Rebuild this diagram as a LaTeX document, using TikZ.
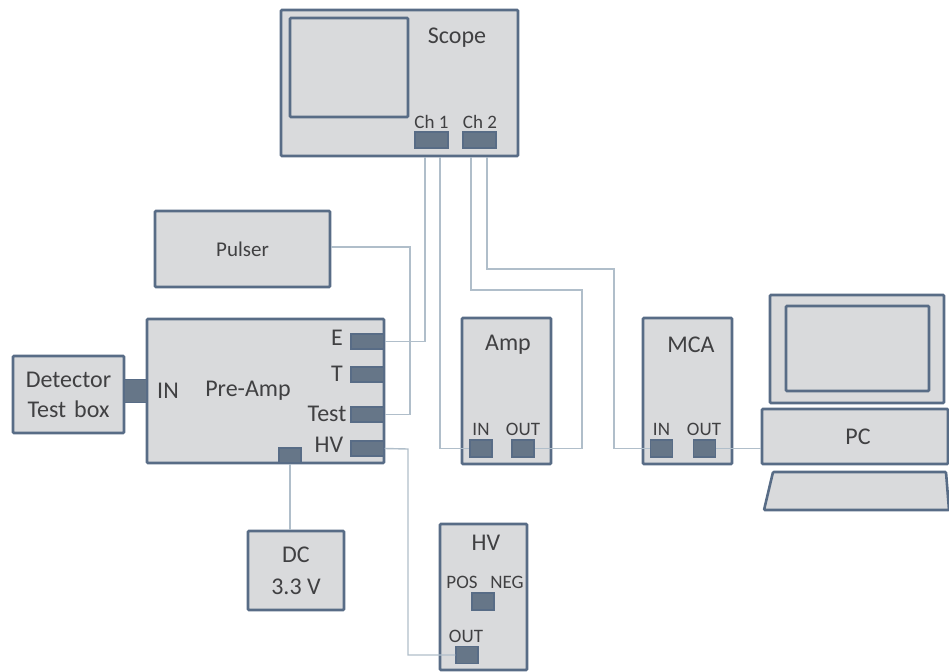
\documentclass[tikz,border=0pt]{standalone}
\usepackage{fontspec}
\setmainfont{Carlito}
\definecolor{boxline}{RGB}{88,108,134}
\definecolor{boxfill}{RGB}{217,218,220}
\definecolor{portfill}{RGB}{102,118,136}
\definecolor{wirecol}{RGB}{176,190,202}
\definecolor{labelcol}{RGB}{64,64,66}
\usetikzlibrary{positioning,calc}

\begin{document}
\begin{tikzpicture}[
  x=1pt,y=-1pt,
  every node/.style={font=\fontsize{24}{26}\selectfont,text=labelcol,inner sep=0pt},
  devbox/.style={draw=boxline,fill=boxfill,line width=2.6pt,rounded corners=1pt,align=center},
  portbox/.style={draw=boxline,fill=portfill,line width=1.2pt},
  smalltxt/.style={font=\fontsize{19}{21}\selectfont},
  wire/.style={draw=wirecol,line width=1.4pt},
]
  \useasboundingbox (0,0) rectangle (949,671);

  % Scope
  \node[devbox,minimum width=237pt,minimum height=146pt] (scope) at (399.5,83) {};
  \node[devbox,minimum width=118pt,minimum height=99pt] (scopescreen) at (349,67.5) {};
  \node (scopetxt) at (457,38) {Scope};
  \node[portbox,minimum width=33pt,minimum height=16pt] (ch1) at (431.5,140) {};
  \node[portbox,minimum width=33pt,minimum height=16pt] (ch2) at (479.5,140) {};
  \node[smalltxt] (ch1txt) at (431.5,122) {Ch 1};
  \node[smalltxt] (ch2txt) at (480,122) {Ch 2};

  % Pulser
  \node[devbox,minimum width=175pt,minimum height=76pt,font=\fontsize{21}{23}\selectfont] (pulser) at (242.5,249) {Pulser};

  % Detector and pre-amp
  \node[devbox,minimum width=111pt,minimum height=77pt,text width=105pt,font=\fontsize{24}{30}\selectfont] (detector) at (68.5,394.5) {Detector\\Test box};
  \node[devbox,minimum width=237pt,minimum height=144pt] (preamp) at (265.5,391) {};
  \node[portbox,minimum width=23pt,minimum height=23pt] (inport) at (135.5,391) {};
  \node (intxt) at (168,391) {IN};
  \node (preamptxt) at (248,391) {Pre-Amp};
  \node[portbox,minimum width=33pt,minimum height=15pt] (eport) at (367.5,341.5) {};
  \node[portbox,minimum width=33pt,minimum height=15pt] (tport) at (367.5,374.5) {};
  \node[portbox,minimum width=33pt,minimum height=15pt] (testport) at (367.5,414.5) {};
  \node[portbox,minimum width=33pt,minimum height=15pt] (hvport) at (367.5,448.5) {};
  \node[portbox,minimum width=22pt,minimum height=15pt] (dcport) at (290,455.5) {};
  \node (etxt) at (337,338) {E};
  \node (ttxt) at (337,374) {T};
  \node (testtxt) at (327,414) {Test};
  \node (hvtxt) at (329,445) {HV};

  % DC supply
  \node[devbox,minimum width=96pt,minimum height=79pt,font=\fontsize{24}{32}\selectfont] (dc) at (296,570.5) {DC\\3.3 V};

  % Amp
  \node[devbox,minimum width=89pt,minimum height=146pt] (amp) at (506.5,391) {};
  \node (amptxt) at (508,345) {Amp};
  \node[portbox,minimum width=22pt,minimum height=17pt] (ampin) at (481,448.5) {};
  \node[portbox,minimum width=22pt,minimum height=17pt] (ampout) at (523,448.5) {};
  \node[smalltxt] (ampintxt) at (481,429) {IN};
  \node[smalltxt] (ampouttxt) at (523,429) {OUT};

  % MCA
  \node[devbox,minimum width=89pt,minimum height=146pt] (mca) at (687.5,391) {};
  \node (mcatxt) at (691,345) {MCA};
  \node[portbox,minimum width=22pt,minimum height=17pt] (mcain) at (661.5,448.5) {};
  \node[portbox,minimum width=22pt,minimum height=17pt] (mcaout) at (704.5,448.5) {};
  \node[smalltxt] (mcaintxt) at (661.5,429) {IN};
  \node[smalltxt] (mcaouttxt) at (704,429) {OUT};

  % PC
  \node[devbox,minimum width=174pt,minimum height=108pt] (monitor) at (857,349) {};
  \node[devbox,minimum width=143pt,minimum height=85pt] (pcscreen) at (857.5,348.5) {};
  \node[devbox,minimum width=186pt,minimum height=55pt] (pc) at (855,436.5) {};
  \node (pctxt) at (858,437) {PC};
  \path[devbox] (773,472) -- (946,472) -- (949,510) -- (764,510) -- cycle;

  % HV supply
  \node[devbox,minimum width=87pt,minimum height=146pt] (hv) at (483.5,597) {};
  \node (hvsuptxt) at (486,543) {HV};
  \node[smalltxt] (postxt) at (462,582) {POS};
  \node[smalltxt] (negtxt) at (507,582) {NEG};
  \node[smalltxt] (outtxt) at (466,636) {OUT};
  \node[portbox,minimum width=22pt,minimum height=17pt] (posport) at (483,601.5) {};
  \node[portbox,minimum width=22pt,minimum height=17pt] (hvout) at (467,655) {};

  % Bends
  \coordinate (testbend) at (410,247);
  \coordinate (ampbend) at (582,290);
  \coordinate (mcabend) at (614,269);
  \coordinate (hvbend) at (408,449);

  % Wires
  \draw[wire] (eport.east) -| ([xshift=-6.5pt]ch1.south |- scope.south);
  \draw[wire] ([yshift=2pt]pulser.east) -- (testbend) |- (testport.east);
  \draw[wire] ([xshift=8.5pt]ch1.south |- scope.south) |- (ampin.west);
  \draw[wire] ([xshift=-8.5pt]ch2.south |- scope.south) |- (ampbend) |- (ampout.east);
  \draw[wire] ([xshift=7.5pt]ch2.south |- scope.south) |- (mcabend) |- (mcain.west);
  \draw[wire] (mcaout.east) -- (pc.west |- mcaout.east);
  \draw[wire] (dcport.south) -- (dc.north -| dcport.south);
  \draw[wire] (hvport.east) -- (hvbend) |- (hvout.west);
\end{tikzpicture}
\end{document}
